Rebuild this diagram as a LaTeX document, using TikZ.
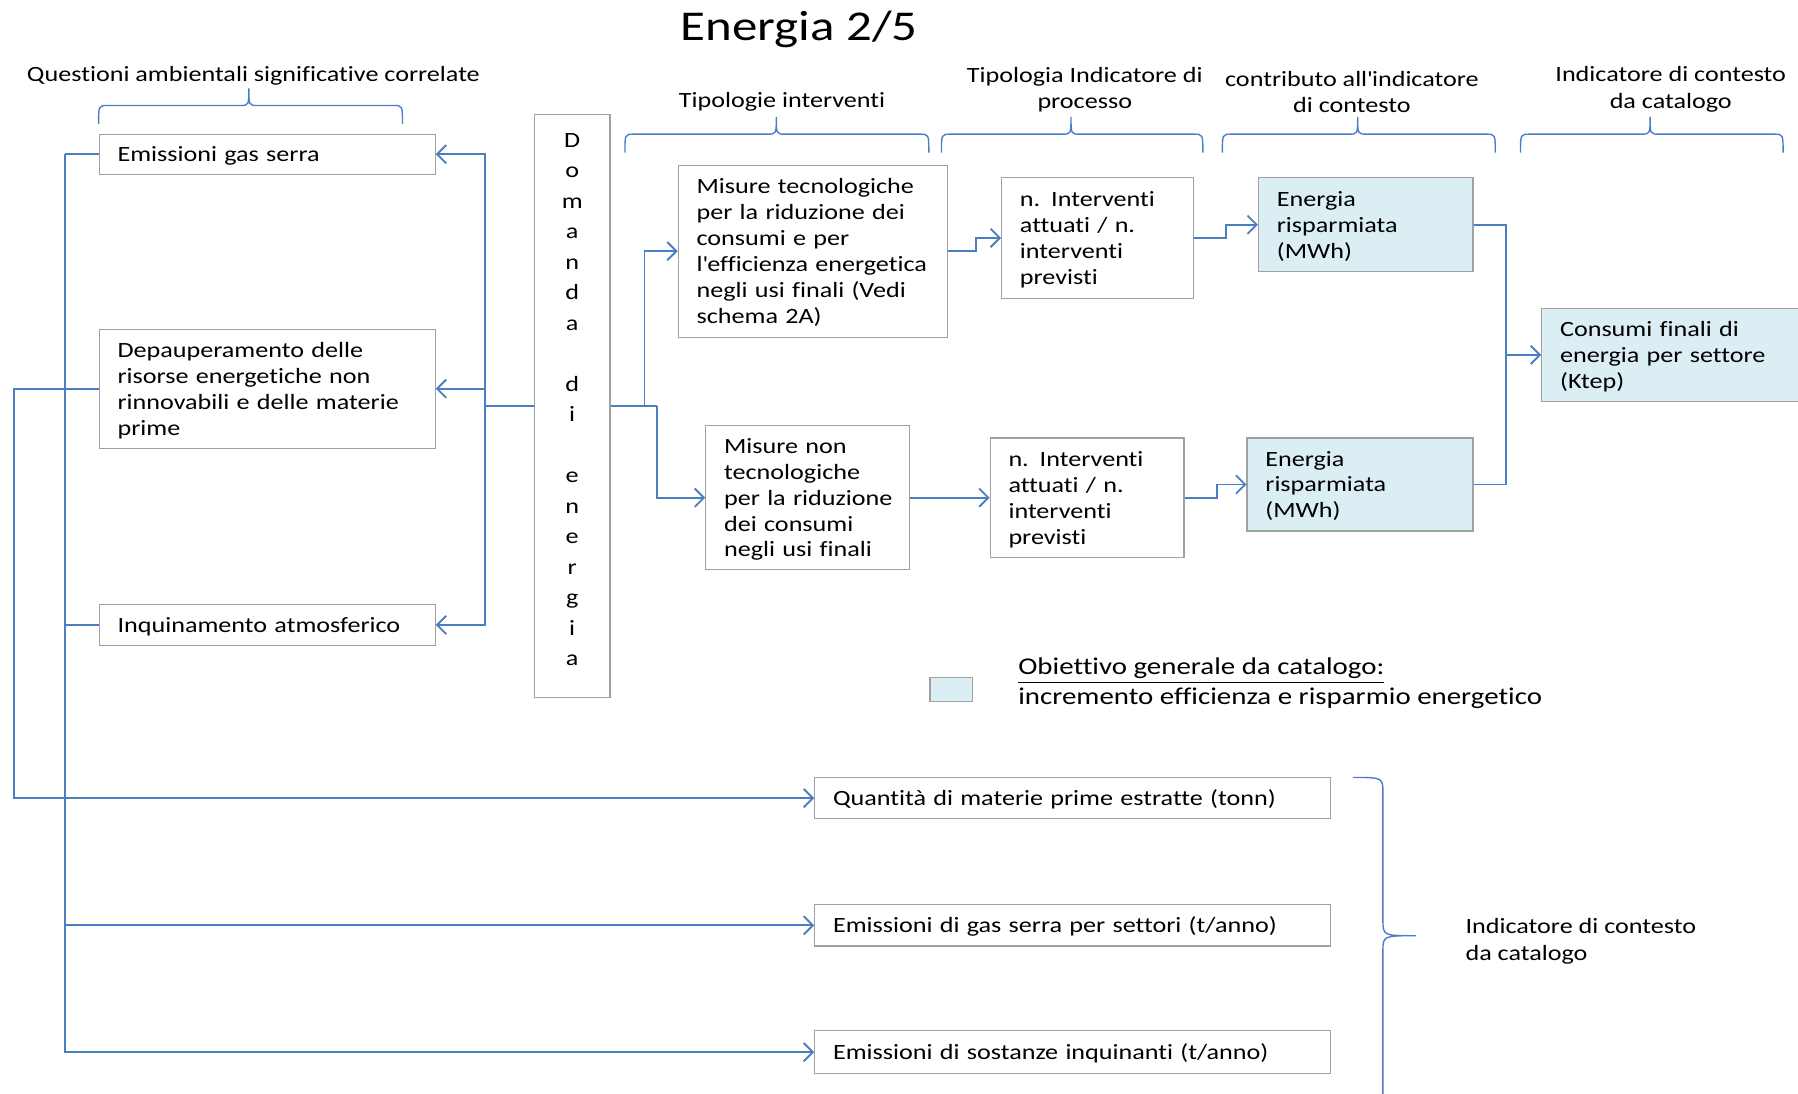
\documentclass[tikz,border=0pt]{standalone}
\usepackage{fontspec}
\setmainfont{Carlito}[FakeStretch=1.2, Ligatures={TeX,NoCommon,NoRare,NoContextual}]
\usetikzlibrary{arrows.meta}
\definecolor{lineblue}{RGB}{74,126,193}
\definecolor{boxgray}{RGB}{160,160,160}
\definecolor{goalfill}{RGB}{218,238,243}
% left-aligned stack of lines that never re-wraps, set slightly low in its box
\newcommand{\boxlines}[1]{\noindent\raisebox{-1pt}[\height][\depth]{\begin{tabular}{@{}l@{}}#1\end{tabular}}}
% centred stack of single letters, set slightly high in its box
\newcommand{\letterstack}[1]{\raisebox{2.5pt}[\height][\depth]{\begin{tabular}{@{}c@{}}#1\end{tabular}}}
% curly brace opening downwards: left x, right x, tip x, y of the bar
\newcommand{\capbrace}[4]{%
  \draw[brace] (#1,#4+16) .. controls (#1,#4) .. (#1+8,#4) -- (#3-8,#4)
    .. controls (#3,#4) .. (#3,#4-15) .. controls (#3,#4) .. (#3+8,#4)
    -- (#2-8,#4) .. controls (#2,#4) .. (#2,#4+16);}

\begin{document}
\begin{tikzpicture}[x=0.5pt,y=-0.5pt,
  every node/.style={font=\fontsize{9.5}{11.3}\selectfont, text=black},
  box/.style={draw=boxgray, line width=0.5pt, fill=white, align=left,
    inner xsep=8pt, inner ysep=0pt, anchor=west},
  goal/.style={box, fill=goalfill},
  conn/.style={draw=lineblue, line width=0.8pt},
  arr/.style={conn, -{Straight Barb[length=4pt,width=8pt]}},
  brace/.style={draw=lineblue, line width=0.6pt},
  head/.style={align=center, font=\fontsize{9.5}{11.5}\selectfont}
]
\useasboundingbox (0,0) rectangle (1568,954);

% title and column headings
\node[font=\fontsize{18.5}{22}\selectfont] (title) at (697,26) {Energia 2/5};
\node[head] (h1) at (221,66) {Questioni ambientali significative correlate};
\node[head] (h2) at (682,89) {Tipologie interventi};
\node[head] (h3) at (946,78) {Tipologia Indicatore di\\processo};
\node[head] (h4) at (1179,80) {contributo all\textquotesingle indicatore\\di contesto};
\node[head] (h5) at (1457,78) {Indicatore di contesto\\da catalogo};

\capbrace{86}{351}{217}{92}
\capbrace{545}{810}{677}{117}
\capbrace{821}{1049}{934}{117}
\capbrace{1066}{1304}{1184}{117}
\capbrace{1326}{1555}{1439}{117}

% environmental issues
\node[box, text width=130.5pt, minimum height=17.5pt] (eg) at (86,134.5)
  {\boxlines{Emissioni gas serra}};
\node[box, text width=130.5pt, minimum height=52pt] (dep) at (86,339)
  {\boxlines{Depauperamento delle\\risorse energetiche non\\rinnovabili e delle materie\\prime}};
\node[box, text width=130.5pt, minimum height=18pt] (inq) at (86,545)
  {\boxlines{Inquinamento atmosferico}};

% demand column
\node[box, anchor=center, align=center, inner xsep=0pt, minimum width=33pt,
  minimum height=254pt, font=\fontsize{9.5}{13.3}\selectfont] (dom) at (499,354)
  {\letterstack{D\\o\\m\\a\\n\\d\\a\\~\\d\\i\\~\\e\\n\\e\\r\\g\\i\\a}};

% interventions
\node[box, text width=101.5pt, minimum height=75pt] (mt) at (591,219)
  {\boxlines{Misure tecnologiche\\per la riduzione dei\\consumi e per\\l\textquotesingle efficienza energetica\\negli usi finali (Vedi\\schema 2A)}};
\node[box, text width=73pt, minimum height=63pt] (mn) at (615,434)
  {\boxlines{Misure non\\tecnologiche\\per la riduzione\\dei consumi\\negli usi finali}};

% process indicators
\node[box, text width=67.5pt, minimum height=52.5pt] (ni1) at (873,207.5)
  {\boxlines{n. Interventi\\attuati / n.\\interventi\\previsti}};
\node[box, text width=68.5pt, minimum height=52pt] (ni2) at (863,434)
  {\boxlines{n. Interventi\\attuati / n.\\interventi\\previsti}};

% contribution to context indicator
\node[goal, text width=77.5pt, minimum height=41pt] (er1) at (1097,196)
  {\boxlines{Energia\\risparmiata\\(MWh)}};
\node[goal, text width=82.5pt, minimum height=40.5pt] (er2) at (1087,422.5)
  {\boxlines{Energia\\risparmiata\\(MWh)}};

% context indicator
\node[goal, text width=102pt, minimum height=40.5pt] (cf) at (1344,309.5)
  {\boxlines{Consumi finali di\\energia per settore\\(Ktep)}};

% legend
\node[draw=boxgray, line width=0.5pt, fill=goalfill, minimum width=18.5pt,
  minimum height=10.5pt, inner sep=0pt] (lsq) at (829.5,601.5) {};
\node[anchor=west, align=left, font=\fontsize{10.5}{13}\selectfont] (ltxt) at (881,596)
  {\underline{Obiettivo generale da catalogo:}\\incremento efficienza e risparmio energetico};

% catalogue context indicators
\node[box, text width=209pt, minimum height=18pt] (q1) at (710,696)
  {\boxlines{Quantità di materie prime estratte (tonn)}};
\node[box, text width=209pt, minimum height=18pt] (q2) at (710,807)
  {\boxlines{Emissioni di gas serra per settori (t/anno)}};
\node[box, text width=209pt, minimum height=18.5pt] (q3) at (710,917.5)
  {\boxlines{Emissioni di sostanze inquinanti (t/anno)}};

\draw[brace] (1180,678) .. controls (1206,678) .. (1206,692) -- (1206,802)
  .. controls (1206,816) .. (1235,816) .. controls (1206,816) .. (1206,830)
  -- (1206,970);
\node[anchor=west, align=left, font=\fontsize{9.5}{11.5}\selectfont] (ctx) at (1271,821)
  {Indicatore di contesto\\da catalogo};

% connectors: demand to issues
\coordinate (jl) at (423,354);
\draw[conn] (dom.west) -- (jl);
\draw[arr] (jl) |- (eg.east);
\draw[arr] (jl) |- (dep.east);
\draw[arr] (jl) |- (inq.east);

% connectors: demand to interventions
\coordinate (jr) at (562,354);
\coordinate (jr2) at (573,354);
\draw[conn] (dom.east) -- (jr2);
\draw[arr] (jr) |- (mt.west);
\draw[arr] (jr2) |- (mn.west);

% interventions to indicators
\draw[arr] (mt.east) -- ++(24,0) |- (ni1.west);
\draw[arr] (mn.east) -- (ni2.west);
\draw[arr] (ni1.east) -- ++(28,0) |- (er1.west);
\draw[arr] (ni2.east) -- ++(28,0) |- (er2.west);
\coordinate (jc) at (1313,309.5);
\draw[conn] (er1.east) -| (jc) |- (er2.east);
\draw[arr] (jc) -- (cf.west);

% issues to catalogue indicators
\coordinate (b1) at (57,134.5);
\coordinate (b2) at (12,339);
\draw[conn] (eg.west) -- (b1);
\draw[arr] (b1) |- (q2.west);
\draw[arr] (b1) |- (q3.west);
\draw[conn] (inq.west) -- (inq.west -| b1);
\draw[arr] (dep.west) -- (b2) |- (q1.west);
\end{tikzpicture}
\end{document}
